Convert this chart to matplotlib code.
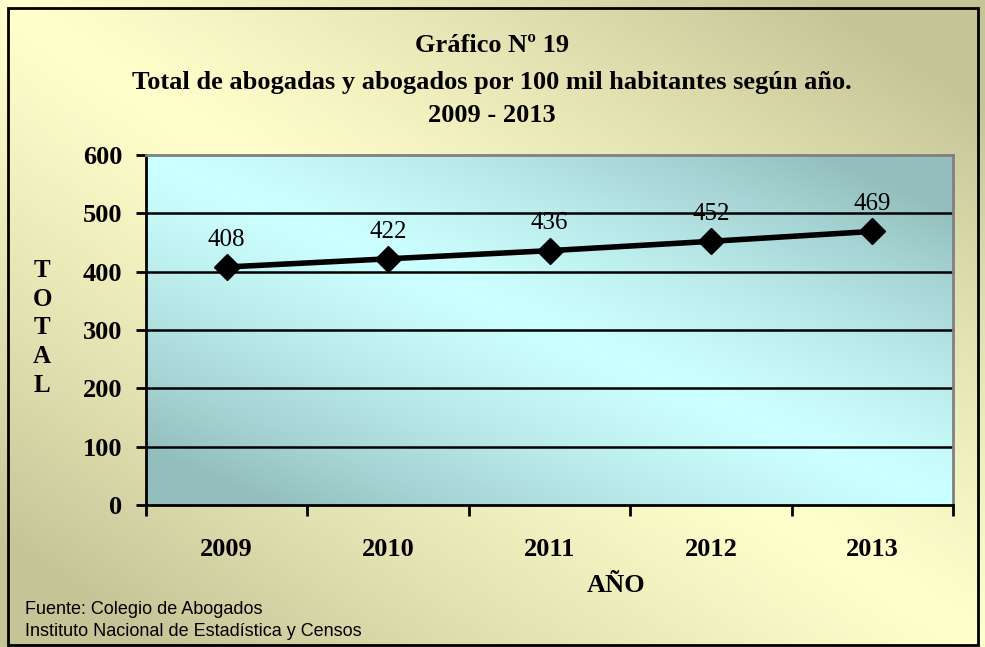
import numpy as np
import matplotlib.pyplot as plt
from matplotlib.patches import Rectangle
from matplotlib.colors import LinearSegmentedColormap

years = ["2009", "2010", "2011", "2012", "2013"]
values = [408, 422, 436, 452, 469]
yticks = [0, 100, 200, 300, 400, 500, 600]

W, H = 985, 647
fig = plt.figure(figsize=(W / 100, H / 100), dpi=100)

def px(x, y):
    return x / W, 1 - y / H

# figure background gradient
bg = fig.add_axes([0, 0, 1, 1], zorder=-10)
bg.set_axis_off()
nx, ny = 200, 130
xx, yy = np.meshgrid(np.linspace(0, 1, nx), np.linspace(0, 1, ny))
g = np.clip(np.abs(xx - yy) / 0.85, 0, 1) ** 1.2
cmap_bg = LinearSegmentedColormap.from_list("bg", ["#FFFFCC", "#C4C497"])
bg.imshow(g, cmap=cmap_bg, extent=[0, 1, 0, 1], aspect="auto", origin="upper")
bg.set_xlim(0, 1)
bg.set_ylim(0, 1)
bg.add_patch(Rectangle((8 / W, 1 - 645 / H), 970 / W, 637 / H, fill=False,
                       edgecolor="black", linewidth=2, transform=bg.transAxes))

# plot axes
x0, y0 = px(146, 505)
x1, y1 = px(953, 155)
ax = fig.add_axes([x0, y0, x1 - x0, y1 - y0])
n = len(years)
ax.set_xlim(-0.5, n - 0.5)
ax.set_ylim(0, 600)

cmap_pl = LinearSegmentedColormap.from_list("pl", ["#CCFFFF", "#94BEBE"])
g2 = np.clip(np.abs(xx - yy) / 0.85, 0, 1) ** 1.3
ax.imshow(g2, cmap=cmap_pl, extent=[-0.5, n - 0.5, 0, 600], aspect="auto",
          origin="upper", zorder=0)

for t in yticks[1:-1]:
    ax.axhline(t, color="black", linewidth=1.8, zorder=1)

xs = np.arange(n)
ax.plot(xs, values, color="black", linewidth=4, marker="D", markersize=13,
        zorder=3)
for x, v in zip(xs, values):
    ax.text(x, v + 28, str(v), ha="center", va="bottom", fontsize=18,
            family="Liberation Serif", zorder=4)

for s in ["top", "right"]:
    ax.spines[s].set_color("#808080")
    ax.spines[s].set_linewidth(2)
for s in ["left", "bottom"]:
    ax.spines[s].set_color("black")
    ax.spines[s].set_linewidth(2)

ax.set_yticks(yticks)
ax.set_yticklabels([str(t) for t in yticks], fontsize=19, fontweight="bold",
                   family="Liberation Serif")
ax.set_xticks(np.arange(-0.5, n, 1.0))
ax.set_xticklabels([])
ax.set_xticks(xs, minor=True)
ax.set_xticklabels(years, minor=True, fontsize=19, fontweight="bold",
                   family="Liberation Serif")
ax.tick_params(axis="x", which="major", length=8, width=2, direction="out")
ax.tick_params(axis="x", which="minor", length=0, pad=24)
ax.tick_params(axis="y", length=7, width=2, direction="out", pad=10)

# titles
fs_t = 19
fig.text(*px(492, 45), "Gráfico Nº 19", ha="center", va="center",
         fontsize=fs_t, fontweight="bold", family="Liberation Serif")
fig.text(*px(492, 83), "Total de abogadas y abogados por 100 mil habitantes según año.",
         ha="center", va="center", fontsize=fs_t, fontweight="bold",
         family="Liberation Serif")
fig.text(*px(492, 115), "2009 - 2013", ha="center", va="center",
         fontsize=fs_t, fontweight="bold", family="Liberation Serif")

fig.text(*px(616, 585), "AÑO", ha="center", va="center", fontsize=19,
         fontweight="bold", family="Liberation Serif")
fig.text(*px(42, 328), "T\nO\nT\nA\nL", ha="center", va="center",
         fontsize=18, fontweight="bold", family="Liberation Serif",
         linespacing=1.33)

fig.text(*px(25, 610), "Fuente: Colegio de Abogados", ha="left", va="center",
         fontsize=13, family="Liberation Sans")
fig.text(*px(25, 632), "Instituto Nacional de Estadística y Censos", ha="left",
         va="center", fontsize=13, family="Liberation Sans")

fig.savefig("out.png", dpi=100)
